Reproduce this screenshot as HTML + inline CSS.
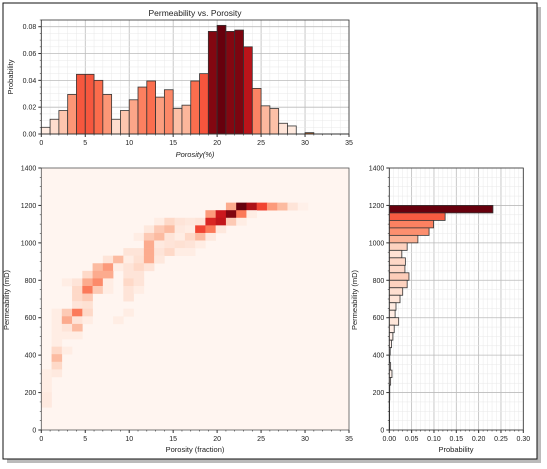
<!DOCTYPE html>
<html><head><meta charset="utf-8"><style>
html,body{margin:0;padding:0;background:#fff;}
svg{display:block;font-family:"Liberation Sans","DejaVu Sans",sans-serif;}
</style></head><body>
<svg id="fig" width="547" height="469" viewBox="0 0 547 469">
<rect x="7" y="7" width="534" height="456" fill="#bbb"/>
<rect x="3" y="3" width="534" height="456" fill="#fff" stroke="#111" stroke-width="1"/>
<g id="topHist"></g>
<g id="heatMap"></g>
<g id="rightHist"></g>
</svg>
<script>
// ---- data ----
const porosityBinsStart = [0,1,2,3,4,5,6,7,8,9,10,11,12,13,14,15,16,17,18,19,20,21,22,23,24,25,26,27,28,29,30,31,32,33,34];
const porosityProb = [0.005,0.011,0.0175,0.0295,0.0445,0.0445,0.040,0.0295,0.011,0.0175,0.0255,0.035,0.0395,0.0275,0.033,0.019,0.0215,0.0395,0.045,0.0765,0.081,0.0765,0.0775,0.065,0.034,0.021,0.019,0.008,0.006,0,0.001,0,0,0,0];
const permBinsTop = [1200,1160,1120,1080,1040,1000,960,920,880,840,800,760,720,680,640,600,560,520,480,440,400,360,320,280,240,200,160,120,80,40];
const permProb = [0.232,0.125,0.099,0.089,0.064,0.040,0.028,0.036,0.035,0.044,0.040,0.030,0.024,0.015,0.013,0.021,0.011,0.008,0.005,0.002,0.001,0.003,0.006,0.003,0.001,0.001,0,0,0,0];
const xTicks = [0,5,10,15,20,25,30,35];
const yTicksTop = [0,0.02,0.04,0.06,0.08];
const yTicksPerm = [0,200,400,600,800,1000,1200,1400];
const xTicksProb = [0,0.05,0.10,0.15,0.20,0.25,0.30];
// heatmap cells: [xBin, yBin, intensity]  (x bin width 35/30, y bin height 40.5 mD)
const heatX = [18,19,20,21,22,23,24,25, 16,17,18,19,20, 11,12,13,14,15,16,17,18,19, 10,11,12,13,14,15,16,17, 9,10,11,12,13,14,15,16, 10,11,12,13,14,15, 8,9,10,11,12,13,14, 6,7,8,9,10,11, 5,6,7,8,9,10, 4,5,6,8,9, 2,3,4,5,6,8,9, 3,4,5,6,8,9, 3,4,8, 3,4, 1,2,3,4,8, 1,2,3,4,7, 1,2,3, 1,2,3, 1, 1,2, 1, 1, 0,1, 0,0, 0,0];
const heatY = [29,29,29,29,29,29,29,29, 28,28,28,28,28, 27,27,27,27,27,27,27,27,27, 26,26,26,26,26,26,26,26, 25,25,25,25,25,25,25,25, 24,24,24,24,24,24, 23,23,23,23,23,23,23, 22,22,22,22,22,22, 21,21,21,21,21,21, 20,20,20,20,20, 19,19,19,19,19,19,19, 18,18,18,18,18,18, 17,17,17, 16,16, 15,15,15,15,15, 14,14,14,14,14, 13,13,13, 12,12,12, 11, 10,10, 9, 8, 7,7, 6,5, 4,3];
const heatV = [0.3,1.0,0.85,0.6,0.35,0.25,0.1,0.03, 0.35,0.75,0.95,0.45,0.05, 0.05,0.15,0.1,0.08,0.1,0.7,0.78,0.2,0.05, 0.08,0.2,0.25,0.07,0.05,0.6,0.45,0.08, 0.05,0.2,0.25,0.1,0.05,0.15,0.25,0.07, 0.3,0.07,0.1,0.12,0.1,0.05, 0.1,0.1,0.3,0.1,0.15,0.05,0.05, 0.1,0.25,0.05,0.12,0.3,0.08, 0.25,0.35,0.05,0.1,0.15,0.1, 0.15,0.3,0.3,0.1,0.1, 0.05,0.1,0.3,0.4,0.05,0.15,0.1, 0.15,0.45,0.2,0.05,0.1,0.05, 0.15,0.2,0.1, 0.1,0.12, 0.05,0.2,0.45,0.15,0.05, 0.05,0.3,0.1,0.05,0.05, 0.05,0.1,0.25, 0.05,0.05,0.05, 0.05, 0.15,0.05, 0.25, 0.15, 0.05,0.07, 0.05,0.05, 0.07,0.07];

// ---- helpers ----
const NS='http://www.w3.org/2000/svg';
function mk(parent,tag,attrs,text){const e=document.createElementNS(NS,tag);for(const k in attrs)e.setAttribute(k,attrs[k]);if(text!==undefined)e.textContent=text;parent.appendChild(e);return e;}
const stops=['#fff5f0','#fee0d2','#fcbba1','#fc9272','#fb6a4a','#ef3b2c','#cb181d','#a50f15','#67000d'];
function hexRgb(c){return [1,3,5].map(i=>parseInt(c.substr(i,2),16));}
function reds(t){t=Math.max(0,Math.min(1,t));const p=t*8;const i=Math.min(7,Math.floor(p));const f=p-i;const a=hexRgb(stops[i]),b=hexRgb(stops[i+1]);return 'rgb('+a.map((v,k)=>Math.round(v+(b[k]-v)*f)).join(',')+')';}

// ---- top histogram ----
const topG=document.getElementById('topHist');
const T={x0:41.3,x1:349,y0:134,y1:20};
const tx=v=>T.x0+(v/35)*(T.x1-T.x0);
const ty=v=>T.y0-(v/0.085)*(T.y0-T.y1);
for(let v=0;v<=35;v+=1){const l=mk(topG,'line',{x1:tx(v),x2:tx(v),y1:T.y1,y2:T.y0,stroke:v%5==0?'#bbb':'#e8e8e8','stroke-width':v%5==0?0.8:0.5});}
for(let v=0;v<=0.0851;v+=0.005){const major=Math.abs(v/0.02-Math.round(v/0.02))<1e-6;const l=mk(topG,'line',{x1:T.x0,x2:T.x1,y1:ty(v),y2:ty(v),stroke:major?'#bbb':'#e8e8e8','stroke-width':major?0.8:0.5});}
const pmax=Math.max(...porosityProb);
porosityProb.forEach((p,i)=>{if(p<=0)return;const x=porosityBinsStart[i];const r=mk(topG,'rect',{x:tx(x),y:ty(p),width:tx(x+1)-tx(x),height:T.y0-ty(p),fill:i==30?'#c0601a':reds(p/pmax),stroke:'#333','stroke-width':0.8});});
mk(topG,'line',{x1:tx(29),x2:tx(35),y1:T.y0,y2:T.y0,stroke:'#333','stroke-width':1});
mk(topG,'rect',{x:T.x0,y:T.y1,width:T.x1-T.x0,height:T.y0-T.y1,fill:'none',stroke:'#333','stroke-width':0.8,});
xTicks.forEach(v=>{mk(topG,'line',{x1:tx(v),x2:tx(v),y1:T.y0,y2:T.y0+3,stroke:'#333'});const t=mk(topG,'text',{x:tx(v),y:T.y0+11,'font-size':7,'text-anchor':'middle',fill:'#222'},String(v));});
for(let v=0;v<=35;v++)mk(topG,'line',{x1:tx(v),x2:tx(v),y1:T.y0,y2:T.y0+1.5,stroke:'#333','stroke-width':0.6});
yTicksTop.forEach(v=>{mk(topG,'line',{x1:T.x0-3,x2:T.x0,y1:ty(v),y2:ty(v),stroke:'#333'});const t=mk(topG,'text',{x:T.x0-5,y:ty(v)+2.5,'font-size':7,'text-anchor':'end',fill:'#222'},v.toFixed(2));});
for(let v=0;v<=0.0851;v+=0.005)mk(topG,'line',{x1:T.x0-1.5,x2:T.x0,y1:ty(v),y2:ty(v),stroke:'#333','stroke-width':0.6});
mk(topG,'text',{x:195,y:16,'font-size':8.5,'text-anchor':'middle',fill:'#222',},'Permeability vs. Porosity');
mk(topG,'text',{x:195,y:157,'font-size':7.5,'text-anchor':'middle',fill:'#222','font-style':'italic',},'Porosity(%)');
mk(topG,'text',{x:0,y:0,'font-size':7.5,'text-anchor':'middle',fill:'#222',transform:'translate(13,77) rotate(-90)',},'Probability');

// ---- heatmap ----
const heatG=document.getElementById('heatMap');
const H={x0:41.3,x1:349,y0:430,y1:168};
const hxs=v=>H.x0+(v/35)*(H.x1-H.x0);
const hys=v=>H.y0-(v/1400)*(H.y0-H.y1);
mk(heatG,'rect',{x:H.x0,y:H.y1,width:H.x1-H.x0,height:H.y0-H.y1,fill:'#fff5f0',});
const bw=35/30,bh=40.5;
heatV.forEach((v,k)=>{const x=heatX[k]*bw,y=heatY[k]*bh;const r=mk(heatG,'rect',{x:hxs(x),y:hys(y+bh),width:hxs(x+bw)-hxs(x)+0.3,height:hys(y)-hys(y+bh)+0.3,fill:reds(v)});});
mk(heatG,'rect',{x:H.x0,y:H.y1,width:H.x1-H.x0,height:H.y0-H.y1,fill:'none',stroke:'#555','stroke-width':0.8});
xTicks.forEach(v=>{mk(heatG,'line',{x1:hxs(v),x2:hxs(v),y1:H.y0,y2:H.y0+3,stroke:'#333'});const t=mk(heatG,'text',{x:hxs(v),y:H.y0+11,'font-size':7,'text-anchor':'middle',fill:'#222'},String(v));});
for(let v=0;v<=35;v++)mk(heatG,'line',{x1:hxs(v),x2:hxs(v),y1:H.y0,y2:H.y0+1.5,stroke:'#333','stroke-width':0.6});
yTicksPerm.forEach(v=>{mk(heatG,'line',{x1:H.x0-3,x2:H.x0,y1:hys(v),y2:hys(v),stroke:'#333'});const t=mk(heatG,'text',{x:H.x0-5,y:hys(v)+2.5,'font-size':7,'text-anchor':'end',fill:'#222'},String(v));});
for(let v=0;v<=1400;v+=50)mk(heatG,'line',{x1:H.x0-1.5,x2:H.x0,y1:hys(v),y2:hys(v),stroke:'#333','stroke-width':0.6});
mk(heatG,'text',{x:195,y:452,'font-size':7.5,'text-anchor':'middle',fill:'#222',},'Porosity (fraction)');
mk(heatG,'text',{x:0,y:0,'font-size':7.5,'text-anchor':'middle',fill:'#222',transform:'translate(9,300) rotate(-90)',},'Permeability (mD)');

// ---- right histogram ----
const rightG=document.getElementById('rightHist');
const R={x0:389.3,x1:523.3,y0:430,y1:168};
const rx=v=>R.x0+(v/0.30)*(R.x1-R.x0);
const ry=v=>R.y0-(v/1400)*(R.y0-R.y1);
for(let v=0;v<=0.3001;v+=0.01){const major=Math.abs(v/0.05-Math.round(v/0.05))<1e-6;mk(rightG,'line',{x1:rx(v),x2:rx(v),y1:R.y1,y2:R.y0,stroke:major?'#bbb':'#e8e8e8','stroke-width':major?0.8:0.5});}
for(let v=0;v<=1400;v+=50){const major=v%200==0;mk(rightG,'line',{x1:R.x0,x2:R.x1,y1:ry(v),y2:ry(v),stroke:major?'#bbb':'#e8e8e8','stroke-width':major?0.8:0.5});}
const rmax=Math.max(...permProb);
permProb.forEach((p,i)=>{const t=permBinsTop[i];const r=mk(rightG,'rect',{x:R.x0,y:ry(t),width:Math.max(rx(p)-R.x0,0.3),height:ry(t-40)-ry(t),fill:reds(p/rmax),stroke:'#333','stroke-width':0.8});});
mk(rightG,'rect',{x:R.x0,y:R.y1,width:R.x1-R.x0,height:R.y0-R.y1,fill:'none',stroke:'#333','stroke-width':0.8,});
xTicksProb.forEach(v=>{mk(rightG,'line',{x1:rx(v),x2:rx(v),y1:R.y0,y2:R.y0+3,stroke:'#333'});const t=mk(rightG,'text',{x:rx(v),y:R.y0+11,'font-size':7,'text-anchor':'middle',fill:'#222'},v.toFixed(2));});
for(let v=0;v<=0.3001;v+=0.01)mk(rightG,'line',{x1:rx(v),x2:rx(v),y1:R.y0,y2:R.y0+1.5,stroke:'#333','stroke-width':0.6});
yTicksPerm.forEach(v=>{mk(rightG,'line',{x1:R.x0-3,x2:R.x0,y1:ry(v),y2:ry(v),stroke:'#333'});const t=mk(rightG,'text',{x:R.x0-5,y:ry(v)+2.5,'font-size':7,'text-anchor':'end',fill:'#222'},String(v));});
for(let v=0;v<=1400;v+=50)mk(rightG,'line',{x1:R.x0-1.5,x2:R.x0,y1:ry(v),y2:ry(v),stroke:'#333','stroke-width':0.6});
mk(rightG,'text',{x:456,y:452,'font-size':7.5,'text-anchor':'middle',fill:'#222',},'Probability');
mk(rightG,'text',{x:0,y:0,'font-size':7.5,'text-anchor':'middle',fill:'#222',transform:'translate(357,300) rotate(-90)',},'Permeability (mD)');
</script>
</body></html>
